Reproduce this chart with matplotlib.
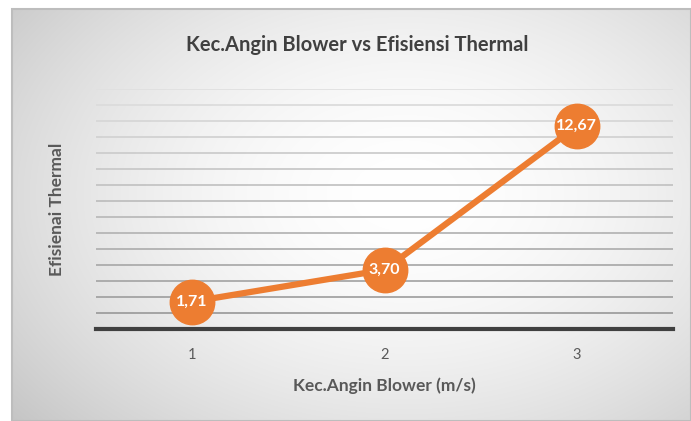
import numpy as np
import matplotlib.pyplot as plt
from matplotlib.patches import Rectangle

## data
kecepatan = [1, 2, 3]
efisiensi = [1.71, 3.70, 12.67]
label_data = ["1,71", "3,70", "12,67"]
tick_label = ["1", "2", "3"]

orange = "#ED7D31"
teks = "#595959"

plt.rcParams['font.family'] = ['Lato', 'DejaVu Sans']

fig = plt.figure(figsize=(6.91, 4.21), dpi=100)

## background with radial gradient (chart area)
bg = fig.add_axes([12 / 691, 0, 1 - 12 / 691, 1 - 9 / 421])
bg.set_axis_off()
gx, gy = np.meshgrid(np.linspace(0, 1, 400), np.linspace(0, 1, 300))
r = np.sqrt(((gx - 0.58) / 0.8) ** 2 + ((gy - 0.45) / 0.9) ** 2)
shade = 1 - 0.25 * np.clip(r, 0, 1.2) ** 1.8
bg.imshow(np.dstack([shade, shade, shade]), extent=[0, 1, 0, 1], aspect="auto",
          origin="upper", interpolation="bilinear")
bg.set_xlim(0, 1)
bg.set_ylim(0, 1)
bg.add_patch(Rectangle((0, 0), 1, 1, fill=False, edgecolor="#bdbdbd", lw=1.5,
                       transform=bg.transAxes, clip_on=False))

## plot area
ax = fig.add_axes([96 / 691, 92 / 421, 577 / 691, 240 / 421])
ax.patch.set_alpha(0)
ax.set_xlim(0.5, 3.5)
ax.set_ylim(0, 15)

ticks = np.arange(1, 16)
for t in ticks:
    g = 0.62 + 0.26 * (t - 1) / 14
    ax.axhline(t, color=(g, g, g), lw=1.3, zorder=1)

ax.plot(kecepatan, efisiensi, color=orange, lw=4.5, marker="o", markersize=32,
        markerfacecolor=orange, markeredgecolor=orange, zorder=3, clip_on=False)
for x, y, s in zip(kecepatan, efisiensi, label_data):
    ax.text(x, y, s, color="white", fontsize=11.5, fontweight="bold",
            ha="center", va="center", zorder=4)

for side in ["top", "right", "left"]:
    ax.spines[side].set_visible(False)
ax.spines["bottom"].set_color("#404040")
ax.spines["bottom"].set_linewidth(3)
ax.set_yticks([])
ax.set_xticks(kecepatan)
ax.set_xticklabels(tick_label, fontsize=10.5, color=teks)
ax.tick_params(axis="x", length=0, pad=14)

ax.set_xlabel("Kec.Angin Blower (m/s)", fontsize=12.5, fontweight="bold",
              color=teks, labelpad=11)
ax.set_ylabel("Efisienai Thermal", fontsize=12.5, fontweight="bold",
              color=teks, labelpad=22)

fig.text(357 / 691, 1 - 45 / 421, "Kec.Angin Blower vs Efisiensi Thermal",
         fontsize=14.5, fontweight="bold", color="#404040", ha="center", va="center")

fig.savefig("out.png", dpi=100)
